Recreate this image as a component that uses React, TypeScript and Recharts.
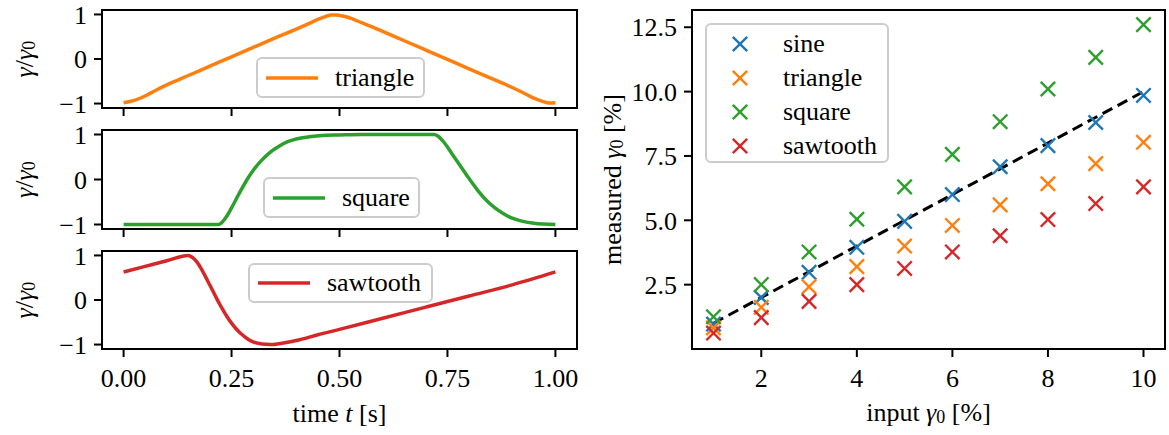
import React from 'react';
import {
  LineChart,
  Line,
  XAxis,
  YAxis,
  ReferenceArea,
  ReferenceLine,
  Legend,
  ScatterChart,
  Scatter,
} from 'recharts';

// Wellenformen (links) und gemessene vs. eingegebene Amplitude (rechts), matplotlib-Look.
const FONT = '"Liberation Serif", "DejaVu Serif", serif';
const FS = 26;
const SUB = 18;
const INK = '#000';
const BLUE = '#1f77b4';
const ORANGE = '#ff7f0e';
const GREEN = '#2ca02c';
const RED = '#d62728';

// --- Zeitverläufe (normiert auf γ0) ---
const triT = [0, 0.025, 0.05, 0.075, 0.1, 0.15, 0.2, 0.25, 0.3, 0.35, 0.4, 0.43, 0.45, 0.47, 0.48, 0.49, 0.51, 0.53, 0.55, 0.6, 0.65, 0.7, 0.75, 0.8, 0.85, 0.9, 0.93, 0.95, 0.97, 0.985, 1.0];
const triV = [-0.98, -0.93, -0.83, -0.7, -0.58, -0.37, -0.16, 0.05, 0.26, 0.47, 0.67, 0.8, 0.89, 0.96, 0.99, 0.99, 0.96, 0.9, 0.82, 0.62, 0.41, 0.2, -0.01, -0.22, -0.43, -0.64, -0.78, -0.88, -0.95, -0.99, -0.98];

const sqT = [0, 0.1, 0.22, 0.23, 0.24, 0.25, 0.26, 0.27, 0.28, 0.29, 0.3, 0.32, 0.34, 0.36, 0.38, 0.4, 0.43, 0.46, 0.5, 0.55, 0.65, 0.72, 0.73, 0.74, 0.75, 0.76, 0.78, 0.8, 0.82, 0.84, 0.86, 0.88, 0.9, 0.92, 0.95, 1.0];
const sqV = [-1, -1, -1, -0.93, -0.8, -0.63, -0.45, -0.27, -0.1, 0.06, 0.2, 0.43, 0.61, 0.74, 0.84, 0.9, 0.95, 0.98, 0.99, 1, 1, 1, 0.95, 0.85, 0.72, 0.58, 0.3, 0.02, -0.24, -0.46, -0.63, -0.76, -0.86, -0.92, -0.97, -1];

const sawT = [0, 0.05, 0.1, 0.15, 0.16, 0.17, 0.18, 0.19, 0.2, 0.21, 0.22, 0.23, 0.24, 0.25, 0.26, 0.27, 0.28, 0.29, 0.3, 0.32, 0.34, 0.36, 0.38, 0.4, 0.45, 0.5, 0.6, 0.7, 0.8, 0.9, 1.0];
const sawV = [0.63, 0.755, 0.88, 1.0, 0.95, 0.85, 0.7, 0.52, 0.33, 0.14, -0.05, -0.22, -0.38, -0.52, -0.64, -0.74, -0.82, -0.89, -0.94, -0.99, -1.0, -0.98, -0.95, -0.91, -0.78, -0.66, -0.41, -0.16, 0.09, 0.34, 0.63];

const timeTicks = [0, 0.25, 0.5, 0.75, 1];
const unitTicks = [-1, 0, 1];

// --- Amplituden-Sweep ---
const inputAmp = [1, 2, 3, 4, 5, 6, 7, 8, 9, 10];
const sineMeas = [0.97, 2.0, 2.98, 3.95, 4.96, 6.0, 7.08, 7.9, 8.8, 9.85];
const triMeas = [0.82, 1.62, 2.42, 3.2, 4.0, 4.8, 5.6, 6.42, 7.2, 8.03];
const sqMeas = [1.25, 2.5, 3.77, 5.04, 6.3, 7.56, 8.83, 10.1, 11.33, 12.6];
const sawMeas = [0.62, 1.22, 1.85, 2.5, 3.13, 3.77, 4.4, 5.03, 5.65, 6.3];
const waveNames = ['sine', 'triangle', 'square', 'sawtooth'];
const identityX = [1, 10];
const identityY = [1, 10];
const ampTicksX = [2, 4, 6, 8, 10];
const ampTicksY = [2.5, 5, 7.5, 10, 12.5];

const zip = (xs: number[], ys: number[]) => xs.map((x, i) => ({ x, y: ys[i] }));
const fmtSigned = (v: number) => (v < 0 ? `\u2212${-v}` : `${v}`);

const TICK = { fill: INK, fontSize: FS, fontFamily: FONT };
const TICK_LINE = { stroke: INK, strokeWidth: 2 };
const AXIS_LINE = { stroke: INK, strokeWidth: 2 };

const legendBox: React.CSSProperties = {
  boxSizing: 'border-box',
  border: '2px solid #cccccc',
  borderRadius: 6,
  background: 'rgba(255,255,255,0.8)',
  fontFamily: FONT,
  fontSize: FS,
  color: INK,
};

const yLabel = (parts: React.ReactNode, dx: number) => (props: any) => {
  const { x, y, height } = props.viewBox;
  const cx = x + dx;
  const cy = y + height / 2;
  return (
    <text x={cx} y={cy} transform={`rotate(-90 ${cx} ${cy})`} textAnchor="middle" dominantBaseline="central" fontFamily={FONT} fontSize={FS} fill={INK}>
      {parts}
    </text>
  );
};

const xLabel = (parts: React.ReactNode, dy: number) => (props: any) => {
  const { x, y, width } = props.viewBox;
  return (
    <text x={x + width / 2} y={y + dy} textAnchor="middle" dominantBaseline="central" fontFamily={FONT} fontSize={FS} fill={INK}>
      {parts}
    </text>
  );
};

const gammaRatio = (
  <>
    <tspan fontStyle="italic">γ</tspan>
    <tspan>/</tspan>
    <tspan fontStyle="italic">γ</tspan>
    <tspan fontSize={SUB} dy={5}>0</tspan>
  </>
);

function LineLegend({ payload, w, h }: any) {
  const item = payload?.[0];
  if (!item) return null;
  return (
    <div style={{ ...legendBox, width: w, height: h, display: 'flex', alignItems: 'center', paddingLeft: 8 }}>
      <svg width={52} height={8} style={{ flex: 'none' }}>
        <line x1={0} y1={4} x2={52} y2={4} stroke={item.color} strokeWidth={3.5} />
      </svg>
      <span style={{ marginLeft: 17, lineHeight: 1 }}>{item.value}</span>
    </div>
  );
}

function Cross({ cx, cy, color, r = 7.2 }: any) {
  if (cx == null || cy == null) return null;
  return (
    <g>
      <line x1={cx - r} y1={cy - r} x2={cx + r} y2={cy + r} stroke={color} strokeWidth={2.4} />
      <line x1={cx - r} y1={cy + r} x2={cx + r} y2={cy - r} stroke={color} strokeWidth={2.4} />
    </g>
  );
}

function ScatterLegend({ payload }: any) {
  const items = waveNames
    .map((n) => (payload || []).find((p: any) => p.value === n))
    .filter(Boolean);
  return (
    <div style={{ ...legendBox, width: 184, height: 140, paddingTop: 2 }}>
      {items.map((p: any) => (
        <div key={p.value} style={{ display: 'flex', alignItems: 'center', height: 34 }}>
          <svg width={18} height={18} style={{ marginLeft: 24, flex: 'none' }}>
            <Cross cx={9} cy={9} color={p.color} />
          </svg>
          <span style={{ marginLeft: 34, lineHeight: 1 }}>{p.value}</span>
        </div>
      ))}
    </div>
  );
}

type PanelProps = {
  t: number[];
  v: number[];
  color: string;
  name: string;
  top: number;
  chartH: number;
  padTop: number;
  axisH: number;
  last?: boolean;
  legend: { left: number; top: number; w: number; h: number };
};

function WavePanel({ t, v, color, name, top, chartH, padTop, axisH, last, legend }: PanelProps) {
  const data = zip(t, v);
  return (
    <div style={{ position: 'absolute', left: 0, top, width: 590, height: chartH }}>
      <LineChart width={590} height={chartH} data={data} margin={{ top: padTop, right: 13, bottom: 0, left: 0 }}>
        <XAxis
          type="number"
          dataKey="x"
          domain={[-0.05, 1.05]}
          ticks={timeTicks}
          height={axisH}
          tick={TICK}
          tickLine={TICK_LINE}
          axisLine={AXIS_LINE}
          tickSize={8}
          tickMargin={12}
          tickFormatter={last ? (x: number) => x.toFixed(2) : () => ''}
          label={last ? xLabel(<>time <tspan fontStyle="italic">t</tspan> [s]</>, 64) : undefined}
        />
        <YAxis
          type="number"
          domain={[-1.1, 1.1]}
          ticks={unitTicks}
          width={102}
          tick={TICK}
          tickLine={TICK_LINE}
          axisLine={AXIS_LINE}
          tickSize={8}
          tickMargin={7}
          tickFormatter={fmtSigned}
          label={yLabel(gammaRatio, 24)}
        />
        <ReferenceArea x1={-0.05} x2={1.05} y1={-1.1} y2={1.1} fill="none" stroke={INK} strokeWidth={2} ifOverflow="visible" />
        <Line type="monotone" dataKey="y" name={name} stroke={color} strokeWidth={3.5} dot={false} isAnimationActive={false} />
        <Legend
          layout="horizontal"
          verticalAlign="middle"
          align="center"
          wrapperStyle={{ left: legend.left, top: legend.top, width: legend.w, height: legend.h }}
          content={(p: any) => <LineLegend {...p} w={legend.w} h={legend.h} />}
        />
      </LineChart>
    </div>
  );
}

function AmplitudePanel() {
  const series = [
    { name: waveNames[0], color: BLUE, data: zip(inputAmp, sineMeas) },
    { name: waveNames[1], color: ORANGE, data: zip(inputAmp, triMeas) },
    { name: waveNames[2], color: GREEN, data: zip(inputAmp, sqMeas) },
    { name: waveNames[3], color: RED, data: zip(inputAmp, sawMeas) },
  ];
  const identity = zip(identityX, identityY);
  return (
    <div style={{ position: 'absolute', left: 590, top: 0, width: 579, height: 435 }}>
      <ScatterChart width={579} height={435} margin={{ top: 10, right: 4, bottom: 0, left: 0 }}>
        <XAxis
          type="number"
          dataKey="x"
          domain={[0.55, 10.45]}
          ticks={ampTicksX}
          height={86}
          tick={TICK}
          tickLine={TICK_LINE}
          axisLine={AXIS_LINE}
          tickSize={8}
          tickMargin={12}
          label={xLabel(
            <>
              input <tspan fontStyle="italic">γ</tspan>
              <tspan fontSize={SUB} dy={5}>0</tspan>
              <tspan dy={-5}> [%]</tspan>
            </>,
            63,
          )}
        />
        <YAxis
          type="number"
          dataKey="y"
          domain={[0, 13.17]}
          ticks={ampTicksY}
          width={102}
          tick={TICK}
          tickLine={TICK_LINE}
          axisLine={AXIS_LINE}
          tickSize={8}
          tickMargin={7}
          tickFormatter={(v: number) => v.toFixed(1)}
          label={yLabel(
            <>
              measured <tspan fontStyle="italic">γ</tspan>
              <tspan fontSize={SUB} dy={5}>0</tspan>
              <tspan dy={-5}> [%]</tspan>
            </>,
            22,
          )}
        />
        <ReferenceArea x1={0.55} x2={10.45} y1={0} y2={13.17} fill="none" stroke={INK} strokeWidth={2} ifOverflow="visible" />
        {series.map((s) => (
          <Scatter
            key={s.name}
            name={s.name}
            data={s.data}
            fill={s.color}
            isAnimationActive={false}
            shape={(p: any) => <Cross cx={p.cx} cy={p.cy} color={s.color} />}
          />
        ))}
        <ReferenceLine
          segment={identity}
          stroke={INK}
          strokeWidth={3}
          strokeDasharray="11 6"
          ifOverflow="visible"
        />
        <Legend
          layout="horizontal"
          verticalAlign="middle"
          align="center"
          wrapperStyle={{ left: 115, top: 23, width: 184, height: 140 }}
          content={(p: any) => <ScatterLegend {...p} />}
        />
      </ScatterChart>
    </div>
  );
}

export default function App() {
  return (
    <div style={{ position: 'absolute', left: 0, top: 0, width: 1169, height: 435, background: '#fff' }}>
      <WavePanel t={triT} v={triV} color={ORANGE} name="triangle" top={0} chartH={120} padTop={10} axisH={12}
        legend={{ left: 256, top: 57, w: 169, h: 41 }} />
      <WavePanel t={sqT} v={sqV} color={GREEN} name="square" top={120} chartH={120} padTop={10} axisH={11}
        legend={{ left: 263, top: 57, w: 157, h: 41 }} />
      <WavePanel t={sawT} v={sawV} color={RED} name="sawtooth" top={240} chartH={195} padTop={11} axisH={86} last
        legend={{ left: 248, top: 23, w: 185, h: 40 }} />
      <AmplitudePanel />
    </div>
  );
}
